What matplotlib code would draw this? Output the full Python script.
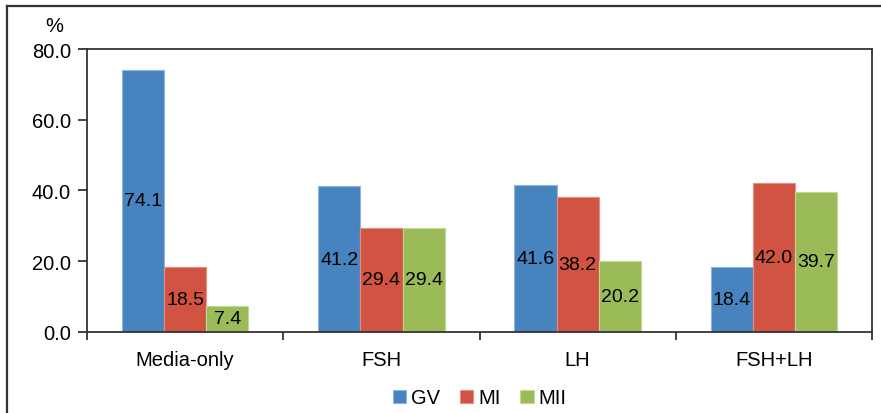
import matplotlib
matplotlib.use('Agg')
from matplotlib import pyplot
from matplotlib.lines import Line2D
import numpy

categories = ['Media-only', 'FSH', 'LH', 'FSH+LH']
gv = [74.1, 41.2, 41.6, 18.4]
mi = [18.5, 29.4, 38.2, 42.0]
mii = [7.4, 29.4, 20.2, 39.7]
series_names = ['GV', 'MI', 'MII']
y_ticks = [0.0, 20.0, 40.0, 60.0, 80.0]

colors = ['#4784BF', '#D05441', '#9BBB59']
edges = ['#8FB4DE', '#E48E84', '#C3D98F']

pyplot.rcParams.update({'font.family': ['Liberation Sans', 'DejaVu Sans'], 'font.size': 14.5})

fig = pyplot.figure(figsize=(8.81, 4.14), dpi=100)
ax = fig.add_axes([0.0988, 0.1957, 0.891, 0.6835])

# outer frame (only top and left visible in the reference)
fig.add_artist(Line2D([7/881, 7/881], [0, 1 - 6.5/414], color='#333333', lw=1.6))
fig.add_artist(Line2D([7/881, 1], [1 - 6.5/414, 1 - 6.5/414], color='#333333', lw=1.6))

x = numpy.arange(len(categories)) + 0.5
w = 0.215
for i, vals in enumerate([gv, mi, mii]):
    pos = x + (i - 1) * w
    bars = ax.bar(pos, vals, width=w, color=colors[i], edgecolor=edges[i],
                  linewidth=0.8, label=series_names[i])
    for b, v in zip(bars, vals):
        ax.text(b.get_x() + b.get_width() / 2, v / 2, '%.1f' % v,
                ha='center', va='center', fontsize=14, color='black')

ax.set_xlim(0, len(categories))
ax.set_ylim(0, 80)
ax.set_yticks(y_ticks)
ax.set_yticklabels(['%.1f' % t for t in y_ticks])

ax.set_xticks(numpy.arange(len(categories) + 1))
ax.set_xticklabels([])
ax.set_xticks(x, minor=True)
ax.set_xticklabels(categories, minor=True)
ax.tick_params(axis='x', which='minor', length=0, pad=13)
ax.tick_params(axis='x', which='major', length=6, width=1.3, color='#333333')
ax.tick_params(axis='y', length=6.5, width=1.3, color='#333333', pad=5)

for s in ax.spines.values():
    s.set_linewidth(1.3)
    s.set_color('#333333')

fig.text(54/881, 1 - 26/414, '%', ha='center', va='center', fontsize=14.5)

ax.legend(loc='upper center', bbox_to_anchor=(0.5, -0.135), ncol=3, frameon=False,
          handlelength=0.65, handleheight=0.65, handletextpad=0.25, columnspacing=1.0,
          fontsize=14.5)

fig.savefig('out.png', dpi=100)
